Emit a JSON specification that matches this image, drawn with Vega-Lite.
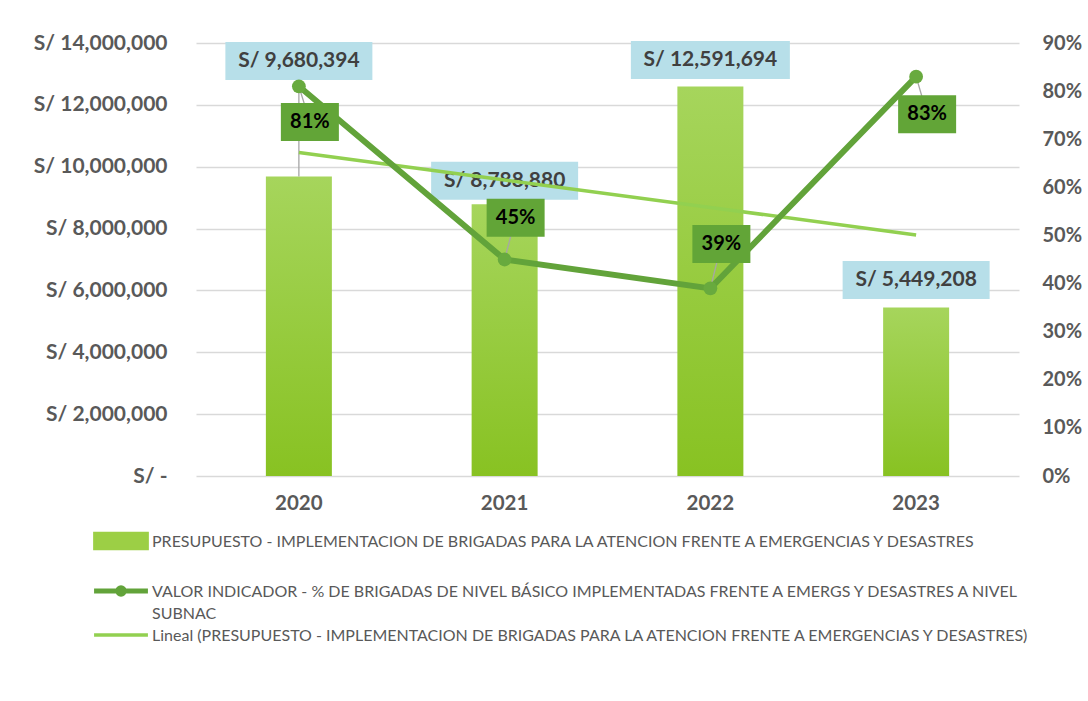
{
  "$schema": "https://vega.github.io/schema/vega-lite/v6.json",
  "width": 823,
  "height": 433,
  "autosize": {"type": "none"},
  "padding": {"left": 196, "top": 43, "right": 69, "bottom": 225},
  "background": "white",
  "config": {
    "font": "Lato",
    "view": {"stroke": null},
    "locale": {"number": {"decimal": ".", "thousands": ",", "grouping": [3], "currency": ["S/ ", ""]}}
  },
  "data": {
    "values": [
      {"year": "2020", "presupuesto": 9680394, "indicador": 0.81, "tendencia": 10461155, "etiqueta_presupuesto": 13420000, "etiqueta_indicador": 0.736},
      {"year": "2021", "presupuesto": 8788880, "indicador": 0.45, "tendencia": 9572081, "etiqueta_presupuesto": 9550000, "etiqueta_indicador": 0.537},
      {"year": "2022", "presupuesto": 12591694, "indicador": 0.39, "tendencia": 8683007, "etiqueta_presupuesto": 13450000, "etiqueta_indicador": 0.482},
      {"year": "2023", "presupuesto": 5449208, "indicador": 0.83, "tendencia": 7793933, "etiqueta_presupuesto": 6340000, "etiqueta_indicador": 0.752}
    ]
  },
  "encoding": {
    "x": {
      "field": "year", "type": "nominal",
      "scale": {"paddingInner": 0.5, "paddingOuter": 0.25},
      "axis": {"title": null, "labelAngle": 0, "labelFont": "Lato", "labelFontSize": 20.5, "labelFontWeight": "bold", "labelColor": "#595959", "labelPadding": 17, "ticks": false, "domain": false, "grid": false}
    }
  },
  "layer": [
    {
      "layer": [
        {
          "mark": {"type": "bar", "width": 66, "fill": {"gradient": "linear", "x1": 0, "y1": 0, "x2": 0, "y2": 1, "stops": [{"offset": 0, "color": "#a6d55c"}, {"offset": 1, "color": "#88c222"}]}},
          "encoding": {
            "y": {
              "field": "presupuesto", "type": "quantitative",
              "scale": {"domain": [0, 14000000], "nice": false},
              "axis": {"title": null, "orient": "left", "values": [0, 2000000, 4000000, 6000000, 8000000, 10000000, 12000000, 14000000], "labelExpr": "datum.value === 0 ? 'S/ -' : 'S/ ' + format(datum.value, ',')", "grid": true, "gridColor": "#d9d9d9", "gridWidth": 1.5, "domain": false, "ticks": false, "labelPadding": 29, "labelFont": "Lato", "labelFontSize": 21, "labelFontWeight": "bold", "labelColor": "#595959"}
            }
          }
        },
        {
          "transform": [{"filter": "datum.year == '2020'"}],
          "mark": {"type": "rule", "color": "#a6a6a6", "strokeWidth": 1.3},
          "encoding": {
            "y": {"field": "presupuesto", "type": "quantitative", "scale": {"domain": [0, 14000000], "nice": false}},
            "y2": {"field": "etiqueta_presupuesto"}
          }
        },
        {
          "mark": {"type": "point", "filled": true, "fill": "#b7dfe9", "opacity": 1, "strokeWidth": 0, "size": 21609},
          "encoding": {
            "y": {"field": "etiqueta_presupuesto", "type": "quantitative", "scale": {"domain": [0, 14000000], "nice": false}},
            "shape": {"condition": {"test": "datum.year === '2022'", "value": "M-1.0816,-0.2585H1.0816V0.2585H-1.0816Z"}, "value": "M-1,-0.2585H1V0.2585H-1Z"}
          }
        },
        {
          "mark": {"type": "text", "font": "Lato", "fontSize": 21, "fontWeight": "bold", "color": "#404040", "baseline": "middle", "align": "center"},
          "encoding": {
            "y": {"field": "etiqueta_presupuesto", "type": "quantitative", "scale": {"domain": [0, 14000000], "nice": false}},
            "text": {"field": "presupuesto", "type": "quantitative", "format": "$,.0f"}
          }
        },
        {
          "mark": {"type": "line", "strokeWidth": 3.5},
          "encoding": {
            "y": {"field": "tendencia", "type": "quantitative", "scale": {"domain": [0, 14000000], "nice": false}},
            "color": {
              "datum": "Lineal (PRESUPUESTO - IMPLEMENTACION DE BRIGADAS PARA LA ATENCION FRENTE A EMERGENCIAS Y DESASTRES)",
              "type": "nominal",
              "scale": {
                "domain": [
                  "PRESUPUESTO - IMPLEMENTACION DE BRIGADAS PARA LA ATENCION FRENTE A EMERGENCIAS Y DESASTRES",
                  "VALOR INDICADOR - % DE BRIGADAS DE NIVEL BÁSICO IMPLEMENTADAS FRENTE A EMERGS Y DESASTRES A NIVEL SUBNAC",
                  "Lineal (PRESUPUESTO - IMPLEMENTACION DE BRIGADAS PARA LA ATENCION FRENTE A EMERGENCIAS Y DESASTRES)"
                ],
                "range": ["#9ccf45", "#62a33a", "#92d050"]
              },
              "legend": {
                "title": null, "orient": "none", "legendX": -103, "legendY": 490, "direction": "vertical", "columns": 1,
                "padding": 0, "symbolSize": 100, "symbolOffset": 20, "labelOffset": 23, "rowPadding": 5,
                "labelFont": "Lato", "labelFontSize": 16, "labelColor": "#595959", "labelLimit": 1000, "labelBaseline": "middle",
                "labelExpr": "indexof(datum.label, 'VALOR') === 0 ? ['VALOR INDICADOR - % DE BRIGADAS DE NIVEL BÁSICO IMPLEMENTADAS FRENTE A EMERGS Y DESASTRES A NIVEL', 'SUBNAC'] : [datum.label, '']",
                "encode": {
                  "symbols": {
                    "update": {
                      "shape": {"signal": "datum.index === 0 ? 'M-0.97,-0.28H0.97V0.28H-0.97Z' : (datum.index === 1 ? 'M-1,0H1M0.12,0A0.12,0.12 0 1 1 -0.12,0A0.12,0.12 0 1 1 0.12,0Z' : 'M-1,0H1')"},
                      "size": {"value": 2900},
                      "fill": {"signal": "datum.index === 0 ? '#9ccf45' : (datum.index === 1 ? '#62a33a' : 'transparent')"},
                      "stroke": {"signal": "datum.index === 0 ? 'transparent' : (datum.index === 1 ? '#62a33a' : '#92d050')"},
                      "strokeWidth": {"signal": "datum.index === 1 ? 5 : 3.5"},
                      "opacity": {"value": 1},
                      "fillOpacity": {"value": 1},
                      "strokeOpacity": {"value": 1}
                    }
                  },
                  "labels": {"update": {"dy": {"value": 1}, "lineHeight": {"value": 22}}}
                }
              }
            }
          }
        }
      ]
    },
    {
      "layer": [
        {
          "mark": {"type": "rule", "color": "#a6a6a6", "strokeWidth": 1.3, "x2Offset": 11},
          "encoding": {
            "y": {"field": "indicador", "type": "quantitative", "scale": {"domain": [0, 0.9], "nice": false},
              "axis": {"title": null, "orient": "right", "values": [0, 0.1, 0.2, 0.3, 0.4, 0.5, 0.6, 0.7, 0.8, 0.9], "format": ".0%", "grid": false, "domain": false, "ticks": false, "labelPadding": 23, "labelFont": "Lato", "labelFontSize": 20, "labelFontWeight": "bold", "labelColor": "#595959"}},
            "y2": {"field": "etiqueta_indicador"},
            "x2": {"field": "year"}
          }
        },
        {
          "mark": {"type": "line", "strokeWidth": 6},
          "encoding": {
            "y": {"field": "indicador", "type": "quantitative", "scale": {"domain": [0, 0.9], "nice": false}},
            "color": {
              "datum": "VALOR INDICADOR - % DE BRIGADAS DE NIVEL BÁSICO IMPLEMENTADAS FRENTE A EMERGS Y DESASTRES A NIVEL SUBNAC",
              "type": "nominal"
            }
          }
        },
        {
          "mark": {"type": "point", "filled": true, "fill": "#68aa3e", "opacity": 1, "strokeWidth": 0, "size": 190},
          "encoding": {
            "y": {"field": "indicador", "type": "quantitative", "scale": {"domain": [0, 0.9], "nice": false}}
          }
        },
        {
          "mark": {"type": "point", "filled": true, "fill": "#62a537", "opacity": 1, "strokeWidth": 0, "size": 3364, "shape": "M-1,-0.655H1V0.655H-1Z", "xOffset": 11},
          "encoding": {
            "y": {"field": "etiqueta_indicador", "type": "quantitative", "scale": {"domain": [0, 0.9], "nice": false}}
          }
        },
        {
          "mark": {"type": "text", "font": "Lato", "fontSize": 20, "fontWeight": "bold", "color": "#000000", "baseline": "middle", "align": "center", "xOffset": 11},
          "encoding": {
            "y": {"field": "etiqueta_indicador", "type": "quantitative", "scale": {"domain": [0, 0.9], "nice": false}},
            "text": {"field": "indicador", "type": "quantitative", "format": ".0%"}
          }
        }
      ]
    }
  ],
  "resolve": {"scale": {"y": "independent"}}
}
